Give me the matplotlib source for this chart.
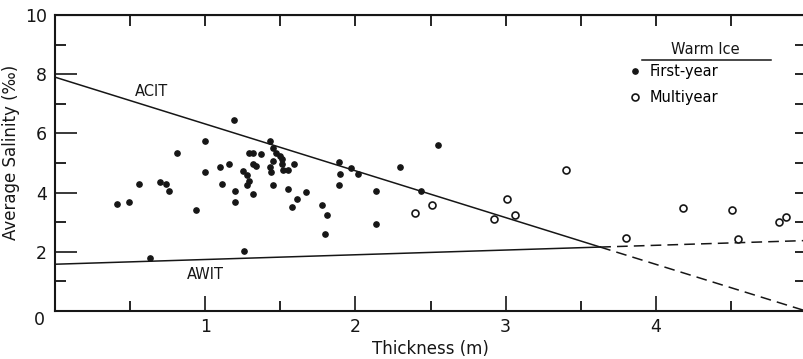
import numpy as np
import matplotlib.pyplot as plt
from matplotlib.lines import Line2D

plt.rcParams['font.family'] = ['Liberation Sans Narrow', 'DejaVu Sans']

# warm first-year ice: thickness (m), average salinity (per mil)
fy_thick = [0.41, 0.49, 0.56, 0.70, 0.74, 0.76, 0.81, 0.94, 0.63, 1.00,
            1.00, 1.10, 1.11, 1.16, 1.19, 1.20, 1.20, 1.26, 1.29, 1.32,
            1.37, 1.32, 1.34, 1.25, 1.28, 1.29, 1.28, 1.32, 1.43, 1.45,
            1.47, 1.50, 1.51, 1.45, 1.43, 1.44, 1.51, 1.52, 1.55, 1.59,
            1.45, 1.55, 1.61, 1.67, 1.58, 1.78, 1.81, 1.80, 1.89, 1.90,
            1.89, 1.97, 2.02, 2.14, 2.14, 2.30, 2.44, 2.55]
fy_sal = [3.60, 3.69, 4.28, 4.37, 4.30, 4.04, 5.35, 3.42, 1.79, 5.75,
          4.71, 4.86, 4.28, 4.98, 6.44, 4.07, 3.69, 2.03, 5.34, 5.34,
          5.32, 4.98, 4.90, 4.72, 4.58, 4.39, 4.24, 3.94, 5.74, 5.52,
          5.35, 5.24, 5.13, 5.07, 4.85, 4.68, 4.96, 4.77, 4.77, 4.96,
          4.25, 4.12, 3.78, 4.02, 3.50, 3.59, 3.23, 2.61, 5.04, 4.63,
          4.26, 4.83, 4.64, 4.05, 2.93, 4.85, 4.07, 5.61]

# warm multiyear ice
my_thick = [2.40, 2.51, 2.92, 3.01, 3.06, 3.40, 3.80, 4.18, 4.51, 4.55, 4.82, 4.87]
my_sal = [3.31, 3.57, 3.12, 3.80, 3.25, 4.75, 2.48, 3.48, 3.41, 2.44, 3.00, 3.17]

# ACIT / AWIT lines: solid part and dashed extension
acit_x = [0.0, 3.63]
acit_y = [7.90, 2.16]
acit_ext_x = [3.63, 5.0]
acit_ext_y = [2.16, 0.0]
awit_x = [0.0, 3.63]
awit_y = [1.58, 2.16]
awit_ext_x = [3.63, 5.0]
awit_ext_y = [2.16, 2.38]

ink = '#161616'
fig = plt.figure(figsize=(8.04, 3.59), dpi=100)
ax = fig.add_axes([55 / 804, 48 / 359, 751 / 804, 296 / 359])

ax.plot(acit_x, acit_y, color=ink, lw=1.1)
ax.plot(awit_x, awit_y, color=ink, lw=1.1)
ax.plot(acit_ext_x, acit_ext_y, color=ink, lw=1.1, dashes=(7, 4))
ax.plot(awit_ext_x, awit_ext_y, color=ink, lw=1.1, dashes=(7, 4))

ax.plot(fy_thick, fy_sal, 'o', color=ink, ms=3.8, ls='none', label='First-year')
ax.plot(my_thick, my_sal, 'o', mfc='white', mec=ink, mew=1.2, ms=5, ls='none',
        label='Multiyear')

ax.set_xlim(0, 5)
ax.set_ylim(0, 10)

for s in ax.spines.values():
    s.set_linewidth(1.5)
    s.set_color(ink)

ax.set_xticks([1, 2, 3, 4])
ax.set_xticklabels(['1', '2', '3', '4'])
ax.set_xticks(np.arange(0.5, 5, 1.0), minor=True)
ax.set_yticks([2, 4, 6, 8, 10])
ax.set_yticks([1, 3, 5, 7, 9], minor=True)
ax.tick_params(which='major', axis='x', direction='in', length=11, width=1.2,
               labelsize=12.5, pad=5, colors=ink)
ax.tick_params(which='minor', axis='x', direction='in', length=7, width=1.2)
ax.tick_params(which='major', axis='y', direction='in', length=16, width=1.2,
               labelsize=12.5, pad=6, colors=ink)
ax.tick_params(which='minor', axis='y', direction='in', length=8, width=1.2)
ax.text(-0.105, -0.3, '0', ha='center', va='center', fontsize=12.5, color=ink)

top = ax.secondary_xaxis('top')
top.set_xticks(np.arange(0.5, 5, 0.5))
top.tick_params(direction='in', length=8, width=1.2, labeltop=False)
right = ax.secondary_yaxis('right')
right.set_yticks(np.arange(1, 10, 1))
right.tick_params(direction='in', length=8, width=1.2, labelright=False)

ax.set_xlabel('Thickness (m)', fontsize=12, color=ink, labelpad=3)
ax.set_ylabel('Average Salinity (‰)', fontsize=12, color=ink)
ax.yaxis.set_label_coords(-0.047, 0.537)

ax.text(0.64, 7.43, 'ACIT', ha='center', va='center', fontsize=10.5, color=ink)
ax.text(1.00, 1.22, 'AWIT', ha='center', va='center', fontsize=10.5, color=ink)

ax.text(4.33, 8.82, 'Warm Ice', ha='center', va='center', fontsize=10.5, color=ink)
ax.add_line(Line2D([3.905, 4.77], [8.48, 8.48], color=ink, lw=1.1))
ax.legend(loc='upper left', bbox_to_anchor=(0.763, 0.835), frameon=False,
          fontsize=10.5, handlelength=1.0, handletextpad=0.5, borderpad=0,
          borderaxespad=0, labelspacing=0.75)

fig.savefig('out.png', dpi=100)
